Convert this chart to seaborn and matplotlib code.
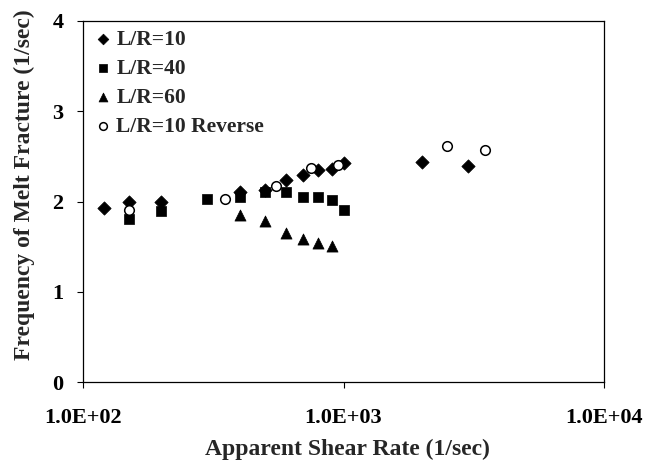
import matplotlib
matplotlib.use("Agg")
import matplotlib.pyplot as plt
import seaborn as sns
import pandas as pd
import numpy as np
from matplotlib.ticker import FixedLocator, FixedFormatter, NullLocator

# ---- data ----
lr10_x = [120, 150, 200, 400, 500, 600, 700, 800, 900, 1000, 2000, 3000]
lr10_y = [1.93, 1.99, 1.99, 2.11, 2.13, 2.24, 2.29, 2.35, 2.36, 2.43, 2.44, 2.39]

lr40_x = [150, 200, 300, 400, 500, 600, 700, 800, 900, 1000]
lr40_y = [1.81, 1.90, 2.03, 2.05, 2.11, 2.10, 2.05, 2.05, 2.02, 1.91]

lr60_x = [400, 500, 600, 700, 800, 900]
lr60_y = [1.85, 1.78, 1.65, 1.59, 1.54, 1.51]

rev_x = [150, 350, 550, 750, 950, 2500, 3500]
rev_y = [1.91, 2.03, 2.17, 2.37, 2.40, 2.61, 2.57]

series_names = ["L/R=10", "L/R=40", "L/R=60", "L/R=10 Reverse"]
x_ticks = [1e2, 1e3, 1e4]
x_tick_labels = ["1.0E+02", "1.0E+03", "1.0E+04"]
y_ticks = [0, 1, 2, 3, 4]

frames = []
for name, xs, ys in zip(series_names, [lr10_x, lr40_x, lr60_x, rev_x],
                        [lr10_y, lr40_y, lr60_y, rev_y]):
    frames.append(pd.DataFrame({"rate": xs, "freq": ys, "series": name}))
df = pd.concat(frames, ignore_index=True)

sns.set_theme(style="white")
plt.rcParams["font.family"] = ["Liberation Serif", "DejaVu Serif"]
plt.rcParams["font.weight"] = "bold"

fig = plt.figure(figsize=(6.49, 4.67), dpi=100)
ax = fig.add_axes([83/649, 1-382/467, (604-83)/649, (382-21)/467])

styles = {
    "L/R=10": dict(marker="D", color="black", edgecolor="black", s=46, linewidth=0.5),
    "L/R=40": dict(marker="s", color="black", edgecolor="black", s=56, linewidth=0.5),
    "L/R=60": dict(marker="^", color="black", edgecolor="black", s=64, linewidth=0.5),
    "L/R=10 Reverse": dict(marker="o", color="white", edgecolor="black", s=48, linewidth=1.1),
}
for name in series_names:
    sub = df[df["series"] == name]
    sns.scatterplot(data=sub, x="rate", y="freq", ax=ax, label=name, **styles[name])

ax.set_xscale("log")
ax.set_xlim(1e2, 1e4)
ax.set_ylim(0, 4)
ax.xaxis.set_major_locator(FixedLocator(x_ticks))
ax.xaxis.set_major_formatter(FixedFormatter(x_tick_labels))
ax.xaxis.set_minor_locator(NullLocator())
ax.set_yticks(y_ticks)
ax.set_yticklabels([str(v) for v in y_ticks])

for sp in ax.spines.values():
    sp.set_color("black")
    sp.set_linewidth(0.9)
ax.tick_params(axis="both", which="major", direction="out", length=4, width=0.8,
               colors="black", labelsize=16, bottom=True, left=True)
ax.tick_params(axis="x", pad=15)
ax.tick_params(axis="y", pad=10)
for lab in ax.get_xticklabels() + ax.get_yticklabels():
    lab.set_fontweight("bold")

ax.set_xlabel("Apparent Shear Rate (1/sec)", fontsize=17, fontweight="bold")
ax.set_ylabel("Frequency of Melt Fracture (1/sec)", fontsize=17, fontweight="bold")
ax.xaxis.set_label_coords(0.508, -0.158)
ax.yaxis.set_label_coords(-0.092, 0.546)

leg = ax.legend(loc="upper left", frameon=False, prop={"size": 15.5, "weight": "bold"},
                handletextpad=0.05, labelspacing=0.42, borderaxespad=0.1,
                handlelength=1.1, markerscale=0.8, borderpad=0.3)

fig.savefig("out.png", dpi=100)
